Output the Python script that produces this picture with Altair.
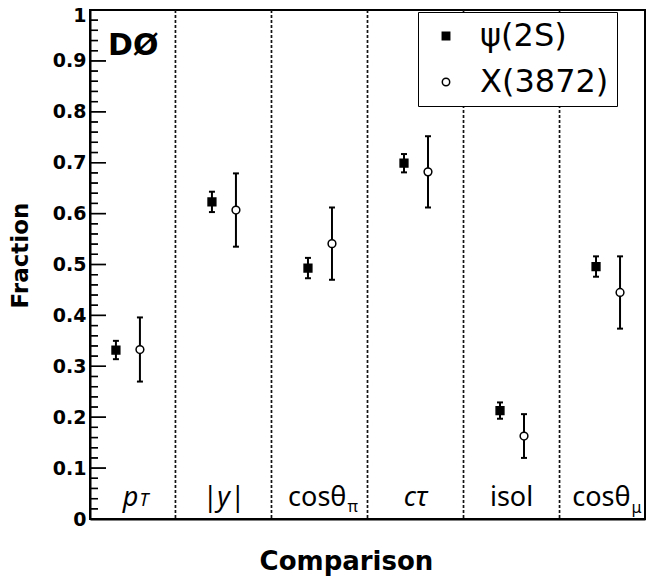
import altair as alt
import pandas as pd

# ---------------- data ----------------
categories = ["pT", "|y|", "cosθπ", "cτ", "isol", "cosθμ"]
series_names = ["ψ(2S)", "X(3872)"]
psi_fraction = [0.332, 0.623, 0.493, 0.699, 0.213, 0.496]
psi_error = [0.018, 0.020, 0.020, 0.018, 0.016, 0.020]
x3872_fraction = [0.333, 0.607, 0.541, 0.682, 0.163, 0.445]
x3872_error = [0.063, 0.072, 0.071, 0.070, 0.043, 0.071]
label_main = ["p", "|y|", "cosθ", "cτ", "isol", "cosθ"]
label_sub = ["T", "", "π", "", "", "μ"]
y_major_ticks = [0.0, 0.1, 0.2, 0.3, 0.4, 0.5, 0.6, 0.7, 0.8, 0.9, 1.0]
y_minor_step = 0.02
experiment_tag = ["DØ"]

# ---------------- layout ----------------
W, H = 555, 509
X_MIN, X_MAX = 0.11, 5.89
SERIES_OFFSET = {"ψ(2S)": 0.38, "X(3872)": 0.63}
MAJOR_TICK_PX, MINOR_TICK_PX = 16, 8
MAIN_ITALIC = [True, True, False, True, False, False]
SUB_ITALIC = [True, False, False, False, False, False]
SUB_SIZE = [18, 0, 16, 0, 0, 16]
SUB_DY = [0, 0, 6, 0, 0, 7]
SUB_ANCHOR = [0.615, None, 2.78, None, None, 5.74]
LABEL_FONT = "Noto Sans"
BOLD_FONT = "DejaVu Sans"

rows = []
for i, cat in enumerate(categories):
    for s, vals, errs in [(series_names[0], psi_fraction, psi_error),
                          (series_names[1], x3872_fraction, x3872_error)]:
        rows.append({"category": cat, "series": s, "x": i + SERIES_OFFSET[s],
                     "val": vals[i], "lo": vals[i] - errs[i], "hi": vals[i] + errs[i]})
df = pd.DataFrame(rows)
caps = pd.concat([df[["x", "lo"]].rename(columns={"lo": "v"}),
                  df[["x", "hi"]].rename(columns={"hi": "v"})])

# inward y-axis ticks (major every 0.1, minor every 0.02)
u = (X_MAX - X_MIN) / W
minor_vals = [round(k * y_minor_step, 2) for k in range(int(round(1 / y_minor_step)) + 1)]
minor_vals = [v for v in minor_vals if abs(v * 10 - round(v * 10)) > 1e-6]

# variant A: rules from a frame derived with .assign
base = pd.DataFrame({"tv": y_major_ticks + minor_vals,
                     "is_major": [1] * len(y_major_ticks) + [0] * len(minor_vals)})
ticks_a_df = base.assign(
    tx0=X_MIN + 0.5 * u,
    tx1=[X_MIN + (MAJOR_TICK_PX if m else MINOR_TICK_PX) * u for m in base["is_major"]],
)
# variant B: centred tick marks, built like the error-bar caps
major_tk = pd.concat([pd.DataFrame({"x": [X_MIN + MAJOR_TICK_PX / 2 * u] * len(y_major_ticks),
                                    "v": y_major_ticks})])
minor_tk = pd.concat([pd.DataFrame({"x": [X_MIN + MINOR_TICK_PX / 2 * u] * len(minor_vals),
                                    "v": minor_vals})])
sep_df = pd.DataFrame({"x": list(range(1, len(categories)))})

xscale = alt.Scale(domain=[X_MIN, X_MAX], nice=False, zero=False)
yscale = alt.Scale(domain=[0, 1], nice=False, zero=False)

xaxis = alt.Axis(title="Comparison", labels=False, ticks=False, grid=False,
                 domainColor="black", domainWidth=2,
                 titleFont=BOLD_FONT, titleFontWeight="bold", titleFontSize=26,
                 titleColor="black", titlePadding=29, titleX=256, titleAlign="center")
yaxis = alt.Axis(title="Fraction", values=y_major_ticks, format=".1~f", ticks=False,
                 grid=False, domainColor="black", domainWidth=2,
                 labelFont=BOLD_FONT, labelFontWeight="bold", labelFontSize=19,
                 labelColor="black", labelPadding=4, labelFlush=False, labelOverlap=False,
                 labelOffset={"condition": {"test": "datum.value >= 1", "value": 5}, "value": 0},
                 titleFont=BOLD_FONT, titleFontWeight="bold", titleFontSize=23,
                 titleColor="black", titleX=-70, titleY=245, titleAngle=270,
                 titleAlign="center", titleBaseline="middle")


def X(field):
    return alt.X(field, type="quantitative", scale=xscale, axis=xaxis)


def Y(field):
    return alt.Y(field, type="quantitative", scale=yscale, axis=yaxis)


seps = alt.Chart(sep_df).mark_rule(strokeDash=[3, 2], strokeWidth=1.7, color="#111").encode(
    x=X("x"))

ticks_a = alt.Chart(ticks_a_df).mark_rule(color="black", strokeWidth=1.4).encode(
    x=X("tx0"), x2="tx1", y=Y("tv"))
ticks_b_major = alt.Chart(major_tk).mark_tick(orient="horizontal", size=MAJOR_TICK_PX,
                                              thickness=1.4, color="black", opacity=1).encode(
    x=X("x"), y=Y("v"))
ticks_b_minor = alt.Chart(minor_tk).mark_tick(orient="horizontal", size=MINOR_TICK_PX,
                                              thickness=1.3, color="black", opacity=1).encode(
    x=X("x"), y=Y("v"))

bars = alt.Chart(df).mark_rule(color="black", strokeWidth=2).encode(
    x=X("x"), y=Y("lo"), y2="hi")
capmarks = alt.Chart(caps).mark_tick(orient="horizontal", size=6, thickness=2,
                                     color="black", opacity=1).encode(x=X("x"), y=Y("v"))

legend = alt.Legend(orient="none", legendX=328, legendY=2, title=None,
                    fillColor="white", strokeColor="black", padding=8,
                    symbolOffset=4, labelOffset=18, rowPadding=14,
                    labelFontSize=32, labelFont=BOLD_FONT, labelColor="black",
                    symbolSize=55, symbolStrokeColor="black", symbolStrokeWidth=1.5)

points = alt.Chart(df).mark_point(size=60, strokeWidth=1.5, opacity=1, fillOpacity=1).encode(
    x=X("x"), y=Y("val"),
    shape=alt.Shape("series:N", scale=alt.Scale(domain=series_names, range=["square", "circle"]),
                    legend=legend),
    fill=alt.Fill("series:N", scale=alt.Scale(domain=series_names, range=["black", "white"]),
                  legend=legend),
    stroke=alt.Stroke("series:N", scale=alt.Scale(domain=series_names, range=["black", "black"]),
                      legend=legend),
)

label_layers = []
n = len(categories)
for i in range(n):
    lo_edge = max(i, X_MIN)
    hi_edge = min(i + 1, X_MAX)
    center = (lo_edge + hi_edge) / 2
    style = "italic" if MAIN_ITALIC[i] else "normal"
    if label_sub[i]:
        anchor = SUB_ANCHOR[i]
        d = pd.DataFrame({"x": [anchor], "y0": [0.0], "t": [label_main[i]], "s": [label_sub[i]]})
        label_layers.append(alt.Chart(d).mark_text(
            font=LABEL_FONT, fontSize=27, fontStyle=style, align="right",
            baseline="alphabetic", dy=-13, color="black").encode(x=X("x"), y=Y("y0"), text="t:N"))
        label_layers.append(alt.Chart(d).mark_text(
            font=LABEL_FONT, fontSize=SUB_SIZE[i], fontStyle="italic" if SUB_ITALIC[i] else "normal",
            align="left", baseline="alphabetic", dx=1, dy=-13 + SUB_DY[i],
            color="black").encode(x=X("x"), y=Y("y0"), text="s:N"))
    else:
        d = pd.DataFrame({"x": [center], "y0": [0.0], "t": [label_main[i]]})
        label_layers.append(alt.Chart(d).mark_text(
            font=LABEL_FONT, fontSize=27, fontStyle=style, align="center",
            baseline="alphabetic", dy=-13, color="black").encode(x=X("x"), y=Y("y0"), text="t:N"))

tag = alt.Chart(pd.DataFrame({"t": experiment_tag})).mark_text(
    font=BOLD_FONT, fontWeight="bold", fontSize=30, align="left", baseline="alphabetic",
    color="black").encode(x=alt.value(18), y=alt.value(45), text="t:N")

chart = alt.layer(seps, bars, capmarks, points, *label_layers, tag,
                  ticks_a, ticks_b_major, ticks_b_minor).properties(
    width=W, height=H,
    autosize=alt.AutoSizeParams(type="none"),
    padding={"left": 82, "top": 2, "right": 12, "bottom": 60},
    background="white",
).configure_view(stroke="black", strokeWidth=2)

chart.save("out.html", embed_options={"renderer": "svg", "actions": False})
